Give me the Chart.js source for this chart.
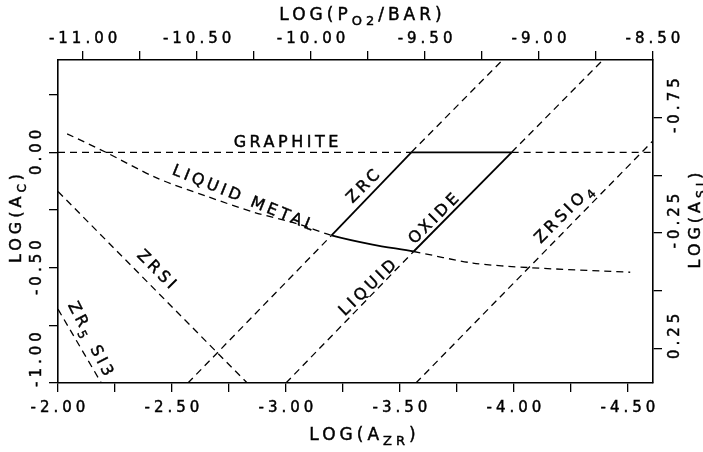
<!DOCTYPE html>
<html>
<head>
<meta charset="utf-8">
<script src="https://cdn.jsdelivr.net/npm/chart.js@4.4.0/dist/chart.umd.min.js"></script>
<style>
  html, body { margin: 0; padding: 0; background: #fff; }
  #wrap { width: 703px; height: 452px; }
</style>
</head>
<body>
<div id="wrap"><canvas id="phaseChart" width="703" height="452"></canvas></div>
<script>
// phase boundaries as [log a_Zr, log a_C]
const graphite = [[-2.00, 0.00], [-3.55, 0.00], [-3.99, 0.00], [-4.61, 0.00]];
const zrc = [[-2.57, -1.00], [-3.20, -0.36], [-3.55, 0.00], [-3.95, 0.40]];
const oxide = [[-3.00, -1.00], [-3.56, -0.43], [-3.99, 0.00], [-4.39, 0.40]];
const liquidMetal = [[-2.04, 0.08], [-2.21, 0.00], [-2.43, -0.11], [-2.65, -0.19], [-2.86, -0.26],
  [-3.05, -0.31], [-3.20, -0.36], [-3.38, -0.40], [-3.56, -0.43], [-3.82, -0.48], [-4.07, -0.50], [-4.51, -0.52]];
const zrsi = [[-2.00, -0.17], [-2.83, -1.00]];
const zr5si3 = [[-2.00, -0.68], [-2.19, -1.00]];
const zrsio4 = [[-3.57, -1.00], [-4.61, 0.05]];

// axis ticks
const bottomTicks = [-2.00, -2.25, -2.50, -2.75, -3.00, -3.25, -3.50, -3.75, -4.00, -4.25, -4.50];
const bottomLabels = [-2.00, -2.50, -3.00, -3.50, -4.00, -4.50];
const topTicks = [-11.00, -10.75, -10.50, -10.25, -10.00, -9.75, -9.50, -9.25, -9.00, -8.75, -8.50];
const topLabels = [-11.00, -10.50, -10.00, -9.50, -9.00, -8.50];
const leftTicks = [-1.00, -0.75, -0.50, -0.25, 0.00, 0.25];
const leftLabels = [-1.00, -0.50, 0.00];
const rightTicks = [-0.75, -0.50, -0.25, 0.00, 0.25];
const rightLabels = [-0.75, -0.25, 0.25];

// field names written along the lines: [text, subscript?]
const fieldNames = [
  { parts: [['GRAPHITE', 0]], x: -3.00, y: 0.04, angle: 0 },
  { parts: [['LIQUID METAL', 0]], x: -2.81, y: -0.20, angle: 22 },
  { parts: [['ZRC', 0]], x: -3.34, y: -0.15, angle: -45 },
  { parts: [['OXIDE', 0]], x: -3.65, y: -0.29, angle: -45 },
  { parts: [['LIQUID', 0]], x: -3.36, y: -0.59, angle: -44 },
  { parts: [['ZRSIO', 0], ['4', 1]], x: -4.22, y: -0.27, angle: -45 },
  { parts: [['ZRSI', 0]], x: -2.43, y: -0.51, angle: 45 },
  { parts: [['ZR', 0], ['5', 1], [' SI3', 0]], x: -2.14, y: -0.81, angle: 63 }
];

const FONT = '"DejaVu Sans", sans-serif';
const INK = '#000';

const toXY = pts => pts.map(([x, y]) => ({ x, y }));

function boundary(label, pts, solidFrom, solidTo, tension) {
  const solid = c => c.p0DataIndex >= solidFrom && c.p1DataIndex <= solidTo;
  return {
    label: label,
    data: toXY(pts),
    showLine: true,
    pointRadius: 0,
    borderColor: '#000',
    borderWidth: 1.3,
    borderDash: [7, 5],
    tension: tension || 0,
    segment: {
      borderDash: c => solid(c) ? [] : undefined,
      borderWidth: c => solid(c) ? 1.8 : undefined
    }
  };
}

// draws text centred on (cx, cy); returns nothing. parts: [[text, isSub]]
function richText(ctx, parts, cx, cy, angle, size, spacing, maxEnd) {
  ctx.save();
  ctx.letterSpacing = spacing + 'px';
  const subSize = Math.round(size * 0.75);
  const widths = parts.map(([t, sub]) => {
    ctx.font = (sub ? subSize : size) + 'px ' + FONT;
    return ctx.measureText(t).width;
  });
  const total = widths.reduce((a, b) => a + b, 0) - spacing;
  if (maxEnd !== undefined) cy = Math.min(cy, maxEnd - total / 2);
  ctx.translate(cx, cy);
  ctx.rotate(angle * Math.PI / 180);
  ctx.textBaseline = 'middle';
  ctx.textAlign = 'left';
  ctx.fillStyle = INK;
  ctx.strokeStyle = INK;
  ctx.lineWidth = 0.45;
  let x = -total / 2;
  parts.forEach(([t, sub], i) => {
    ctx.font = (sub ? subSize : size) + 'px ' + FONT;
    const y = sub ? size * 0.35 : 0;
    ctx.fillText(t, x, y);
    ctx.strokeText(t, x, y);
    x += widths[i];
  });
  ctx.letterSpacing = '0px';
  ctx.restore();
}

const has = (list, v) => list.some(l => Math.abs(l - v) < 1e-6);

const textPlugin = {
  id: 'plotText',
  afterDraw(chart) {
    const { ctx, chartArea: a, scales } = chart;
    const tick = 15, sp = 4;
    scales.x.ticks.forEach(t => {
      if (has(bottomLabels, t.value))
        richText(ctx, [[t.value.toFixed(2), 0]], scales.x.getPixelForValue(t.value), a.bottom + 25, 0, tick, sp);
    });
    scales.x2.ticks.forEach(t => {
      if (has(topLabels, t.value))
        richText(ctx, [[t.value.toFixed(2), 0]], scales.x2.getPixelForValue(t.value), a.top - 21, 0, tick, sp);
    });
    scales.y.ticks.forEach(t => {
      if (has(leftLabels, t.value))
        richText(ctx, [[t.value.toFixed(2), 0]], a.left - 21, scales.y.getPixelForValue(t.value), -90, tick, sp, a.bottom + 4);
    });
    scales.y2.ticks.forEach(t => {
      if (has(rightLabels, t.value))
        richText(ctx, [[t.value.toFixed(2), 0]], a.right + 22, scales.y2.getPixelForValue(t.value) - 12, -90, tick, sp);
    });

    const midX = (a.left + a.right) / 2, midY = (a.top + a.bottom) / 2;
    richText(ctx, [['LOG(P', 0], ['O2', 1], ['/BAR)', 0]], midX + 5, 16, 0, 17, 4);
    richText(ctx, [['LOG(A', 0], ['ZR', 1], [')', 0]], midX + 7, 436, 0, 17, 4);
    richText(ctx, [['LOG(A', 0], ['C', 1], [')', 0]], 17, midY - 3, -90, 16, 4);
    richText(ctx, [['LOG(A', 0], ['SI', 1], [')', 0]], 696, midY - 1, -90, 16, 4);

    fieldNames.forEach(f => {
      richText(ctx, f.parts, scales.x.getPixelForValue(f.x), scales.y.getPixelForValue(f.y), f.angle, 16, 3.5);
    });
  }
};

const axisLook = {
  grid: { drawOnChartArea: false, drawTicks: true, tickLength: 9, color: '#000', lineWidth: 1.3 },
  border: { display: true, color: '#000', width: 1.6 },
  ticks: { display: false }
};

function fixedTicks(list) {
  return scale => { scale.ticks = list.map(v => ({ value: v })); };
}

new Chart(document.getElementById('phaseChart'), {
  type: 'scatter',
  data: {
    datasets: [
      boundary('GRAPHITE', graphite, 1, 2),
      boundary('ZRC', zrc, 1, 2),
      boundary('OXIDE', oxide, 1, 2),
      boundary('LIQUID METAL', liquidMetal, 6, 8, 0.3),
      boundary('ZRSI', zrsi, -1, -1),
      boundary('ZR5SI3', zr5si3, -1, -1),
      boundary('ZRSIO4', zrsio4, -1, -1)
    ]
  },
  options: {
    responsive: false,
    animation: false,
    devicePixelRatio: 1,
    layout: { padding: 0 },
    plugins: { legend: { display: false }, tooltip: { enabled: false } },
    scales: {
      x: { type: 'linear', position: 'bottom', min: -4.61, max: -2.0, reverse: true,
        afterBuildTicks: fixedTicks(bottomTicks), afterFit: s => { s.height = 69; }, ...axisLook },
      x2: { type: 'linear', position: 'top', min: -11.11, max: -8.50,
        afterBuildTicks: fixedTicks(topTicks), afterFit: s => { s.height = 60; }, ...axisLook },
      y: { type: 'linear', position: 'left', min: -1.0, max: 0.40,
        afterBuildTicks: fixedTicks(leftTicks), afterFit: s => { s.width = 58; }, ...axisLook },
      y2: { type: 'linear', position: 'right', min: -1.0, max: 0.40, reverse: true,
        afterBuildTicks: fixedTicks(rightTicks), afterFit: s => { s.width = 50; }, ...axisLook }
    }
  },
  plugins: [textPlugin]
});
</script>
</body>
</html>
